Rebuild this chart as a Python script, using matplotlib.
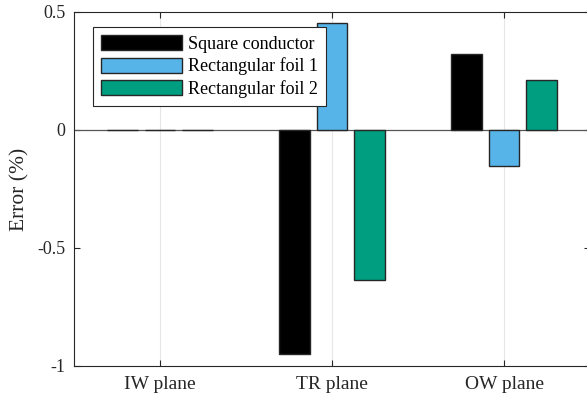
import matplotlib
matplotlib.use("Agg")
import matplotlib.pyplot as plt
import numpy as np
from matplotlib.patches import Patch

categories = ["IW plane", "TR plane", "OW plane"]
series_names = ["Square conductor", "Rectangular foil 1", "Rectangular foil 2"]
square = [0.0, -0.95, 0.32]
foil1 = [0.0, 0.452, -0.153]
foil2 = [0.0, -0.636, 0.212]
colors = ["#000000", "#56B4E9", "#009E80"]
yticks = [-1, -0.5, 0, 0.5]
yticklabels = ["-1", "-0.5", "0", "0.5"]

plt.rcParams['font.family'] = ['Liberation Serif']
fig = plt.figure(figsize=(5.87, 3.99), dpi=100)
ax = fig.add_axes([74/587, 1-366/399, (590-74)/587, (366-12)/399])

x = np.arange(1, len(categories)+1)
offset = 0.218
width = 0.18
edge = "#262626"
for i, (vals, c) in enumerate(zip([square, foil1, foil2], colors)):
    ax.bar(x + (i-1)*offset, vals, width, color=c, edgecolor=edge, linewidth=1.0, zorder=3)

ax.axhline(0, color="#555555", linewidth=0.9, zorder=2)
ax.set_xlim(0.5, 3.5)
ax.set_ylim(-1, 0.5)
ax.set_xticks(x)
ax.set_xticklabels(categories)
ax.set_yticks(yticks)
ax.set_yticklabels(yticklabels)
ax.xaxis.grid(True, color="#e6e6e6", linewidth=0.8, zorder=0)
ax.tick_params(direction="in", top=True, right=True, length=4, colors="#262626", labelcolor="#262626")
ax.tick_params(axis='x', labelsize=14, pad=7)
ax.tick_params(axis='y', labelsize=13, pad=6)
for s in ax.spines.values():
    s.set_color("#262626")
    s.set_linewidth(0.8)
ax.set_ylabel("Error (%)", fontsize=15.5, color="#262626", labelpad=6)

handles = [Patch(facecolor=c, edgecolor=edge, linewidth=1.0) for c in colors]
leg = ax.legend(handles, series_names, loc="upper left", bbox_to_anchor=((93-74)/516, 1-(27-12)/354),
                fontsize=13, frameon=True, fancybox=False, framealpha=1.0, handlelength=4.5, handleheight=0.9,
                handletextpad=0.33, labelspacing=0.25, borderpad=0.45, borderaxespad=0)
leg.set_zorder(10)
leg.get_frame().set_edgecolor("#262626")
leg.get_frame().set_linewidth(0.8)
for t in leg.get_texts():
    t.set_color("#000000")

fig.savefig("out.png", dpi=100)
